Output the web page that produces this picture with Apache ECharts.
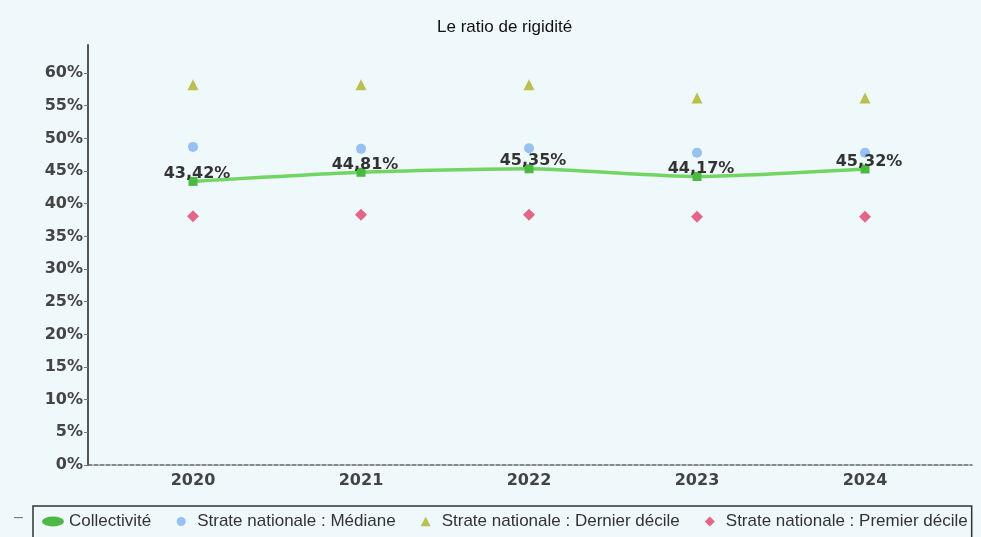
<!DOCTYPE html>
<html>
<head>
<meta charset="utf-8">
<script src="https://cdn.jsdelivr.net/npm/echarts@6/dist/echarts.min.js"></script>
<style>
  html, body { margin: 0; padding: 0; background: #eff8fa; }
  #chart { width: 981px; height: 537px; }
</style>
</head>
<body>
<div id="chart"></div>
<script>
const years = ['2020', '2021', '2022', '2023', '2024'];
const collectivite = [43.42, 44.81, 45.35, 44.17, 45.32];
const mediane = [48.7, 48.4, 48.5, 47.8, 47.8];
const dernierDecile = [58.2, 58.2, 58.2, 56.2, 56.2];
const premierDecile = [38.1, 38.3, 38.3, 38.0, 38.0];
const yTicks = [0, 5, 10, 15, 20, 25, 30, 35, 40, 45, 50, 55, 60];
const yMax = 64.3;

const labelFont = 'DejaVu Sans';
const legendFont = 'Liberation Sans';

// legend icons, padded to the same 22x10 box so they are not stretched
const iconEllipse = 'path://M0,5 A11,5 0 1,0 22,5 A11,5 0 1,0 0,5 Z';
const iconCircle = 'path://M0,5 M22,5 M6.5,5 A4.5,4.5 0 1,0 15.5,5 A4.5,4.5 0 1,0 6.5,5 Z';
const iconTriangle = 'path://M0,5 M22,5 M6,10 L11,0.5 L16,10 Z';
const iconDiamond = 'path://M0,5 M22,5 M11,0 L16,5 L11,10 L6,5 Z';

const chart = echarts.init(document.getElementById('chart'));

const option = {
  backgroundColor: '#eff8fa',
  animation: false,
  title: {
    text: 'Le ratio de rigidité',
    left: 432,
    top: 14,
    textStyle: {
      fontFamily: legendFont,
      fontSize: 17,
      fontWeight: 'normal',
      color: '#111',
    },
  },
  graphic: [
    {
      type: 'text',
      left: 14,
      top: 510,
      style: { text: '–', fontSize: 16, fill: '#777' },
    },
  ],
  legend: {
    left: 33,
    top: 506,
    padding: [7, 4, 16, 9],
    borderColor: '#333',
    borderWidth: 1.5,
    itemGap: 19,
    itemWidth: 22,
    itemHeight: 10,
    textStyle: {
      fontFamily: legendFont,
      fontSize: 17,
      color: '#333',
    },
    data: [
      { name: 'Collectivité', icon: iconEllipse },
      { name: 'Strate nationale : Médiane', icon: iconCircle },
      { name: 'Strate nationale : Dernier décile', icon: iconTriangle },
      { name: 'Strate nationale : Premier décile', icon: iconDiamond },
    ],
  },
  grid: [
    // data grid
    { left: 109, right: 32, top: 45, bottom: 72 },
    // axis frame grid
    { left: 88, right: 9, top: 45, bottom: 72 },
  ],
  xAxis: [
    {
      type: 'category',
      gridIndex: 0,
      data: years,
      boundaryGap: true,
      axisLine: { show: false },
      axisTick: { show: false },
      axisLabel: {
        margin: 8,
        fontFamily: labelFont,
        fontWeight: 'bold',
        fontSize: 16,
        color: '#444',
      },
    },
    {
      type: 'value',
      gridIndex: 1,
      min: 0,
      max: 1,
      axisLine: {
        show: true,
        lineStyle: { color: '#666', width: 1.5, type: [4, 2] },
      },
      axisTick: { show: false },
      axisLabel: { show: false },
      splitLine: { show: false },
    },
  ],
  yAxis: [
    {
      type: 'value',
      gridIndex: 0,
      min: 0,
      max: yMax,
      show: false,
    },
    {
      type: 'value',
      gridIndex: 1,
      min: 0,
      max: yMax,
      axisLine: {
        show: true,
        lineStyle: { color: '#555', width: 2 },
      },
      axisTick: {
        show: true,
        length: 4,
        lineStyle: { color: '#777' },
        customValues: yTicks,
      },
      axisLabel: {
        margin: 5,
        customValues: yTicks,
        fontFamily: labelFont,
        fontWeight: 'bold',
        fontSize: 16,
        color: '#444',
        formatter: (v) => v + '%',
      },
      splitLine: { show: false },
    },
  ],
  series: [
    {
      name: 'Collectivité',
      type: 'line',
      xAxisIndex: 0,
      yAxisIndex: 0,
      data: collectivite,
      smooth: 0.2,
      symbol: 'rect',
      symbolSize: 9,
      itemStyle: { color: '#4cb944' },
      lineStyle: { color: '#72d563', width: 3.5 },
      label: {
        show: true,
        position: 'top',
        distance: -5,
        offset: [4, 0],
        fontFamily: labelFont,
        fontWeight: 'bold',
        fontSize: 16,
        color: '#333',
        formatter: (p) => p.value.toFixed(2).replace('.', ',') + '%',
      },
      z: 3,
    },
    {
      name: 'Strate nationale : Médiane',
      type: 'scatter',
      xAxisIndex: 0,
      yAxisIndex: 0,
      data: mediane,
      symbol: 'circle',
      symbolSize: 10,
      itemStyle: { color: '#7fb3ee' },
      z: 2,
    },
    {
      name: 'Strate nationale : Dernier décile',
      type: 'scatter',
      xAxisIndex: 0,
      yAxisIndex: 0,
      data: dernierDecile,
      symbol: 'triangle',
      symbolSize: 11,
      itemStyle: { color: '#abb224' },
      z: 2,
    },
    {
      name: 'Strate nationale : Premier décile',
      type: 'scatter',
      xAxisIndex: 0,
      yAxisIndex: 0,
      data: premierDecile,
      symbol: 'diamond',
      symbolSize: 12,
      itemStyle: { color: '#e0406a' },
      z: 2,
    },
  ],
};

chart.setOption(option);
window.addEventListener('resize', () => {
  chart.resize();
});
</script>
</body>
</html>
